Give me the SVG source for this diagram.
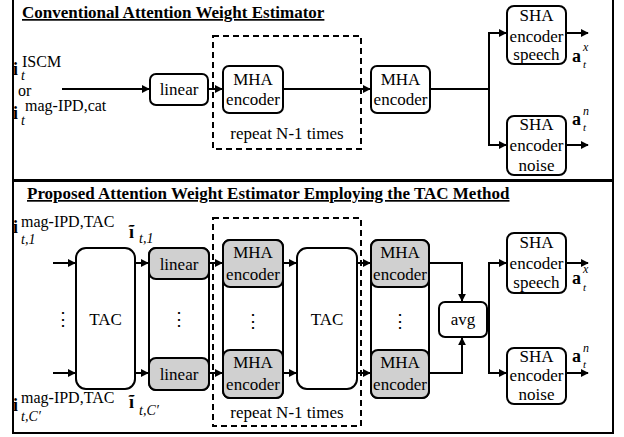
<svg xmlns="http://www.w3.org/2000/svg" width="624" height="437" viewBox="0 0 624 437" font-family="'Liberation Serif', 'DejaVu Serif', serif">
  <defs>
    <marker id="arr" viewBox="0 0 10 10" refX="9" refY="5" markerWidth="8" markerHeight="8" markerUnits="userSpaceOnUse" orient="auto">
      <path d="M0,0 L10,5 L0,10 z" fill="#000"/>
    </marker>
    <style>
      text { fill: #000; }
      .lbl { font-size: 17px; text-anchor: middle; }
      .ttl { font-size: 17px; font-weight: bold; text-decoration: underline; }
      .box { fill: #fff; stroke: #000; stroke-width: 2; }
      .gray { fill: #d0d0d0; stroke: #000; stroke-width: 2; }
      .panel { fill: #fff; stroke: #000; stroke-width: 2; }
      .dash { fill: none; stroke: #000; stroke-width: 2; stroke-dasharray: 6 4; }
      .wire { fill: none; stroke: #000; stroke-width: 2; }
      .arrow { fill: none; stroke: #000; stroke-width: 2; marker-end: url(#arr); }
      .bi { font-size: 18px; font-weight: bold; }
      .sup { font-size: 16px; }
      .sub { font-size: 14px; font-style: italic; }
      .osup { font-size: 12px; font-style: italic; }
      .osub { font-size: 11px; font-style: italic; }
      .dots { font-size: 18px; text-anchor: middle; }
    </style>
  </defs>

  <!-- panels -->
  <rect class="panel" x="13" y="-2" width="600" height="182"/>
  <rect class="panel" x="13" y="181" width="600" height="252"/>

  <text class="ttl" x="22" y="18">Conventional Attention Weight Estimator</text>
  <text class="ttl" x="27" y="199">Proposed Attention Weight Estimator Employing the TAC Method</text>

  <!-- ===== conventional estimator ===== -->
  <g id="in-top">
    <text class="bi" x="13" y="75">i</text>
    <text class="sup" x="22" y="67">ISCM</text>
    <text class="sub" x="21" y="80">t</text>
    <text x="18" y="96" style="font-size:16px">or</text>
    <text class="bi" x="13" y="119">i</text>
    <text class="sup" x="25" y="111">mag-IPD,cat</text>
    <text class="sub" x="21" y="125">t</text>
  </g>
  <g id="linear-top">
    <rect class="box" x="150" y="74" width="58" height="31" rx="6"/>
    <text class="lbl" x="179" y="95">linear</text>
  </g>
  <g id="repeat-top">
    <rect class="dash" x="213" y="36" width="148" height="113"/>
    <text class="lbl" x="287" y="139">repeat N-1 times</text>
  </g>
  <g id="mha-top-1">
    <rect class="box" x="223" y="66" width="60" height="47" rx="6"/>
    <text class="lbl" x="253" y="85">MHA</text>
    <text class="lbl" x="253" y="105">encoder</text>
  </g>
  <g id="mha-top-2">
    <rect class="box" x="371" y="66" width="59" height="47" rx="6"/>
    <text class="lbl" x="400.5" y="85">MHA</text>
    <text class="lbl" x="400.5" y="105">encoder</text>
  </g>
  <g id="sha-speech-top">
    <rect class="box" x="507" y="6" width="59" height="58" rx="7"/>
    <text class="lbl" x="536.5" y="21">SHA</text>
    <text class="lbl" x="536.5" y="42">encoder</text>
    <text class="lbl" x="536.5" y="60">speech</text>
  </g>
  <g id="sha-noise-top">
    <rect class="box" x="507" y="116" width="59" height="59" rx="7"/>
    <text class="lbl" x="536.5" y="130">SHA</text>
    <text class="lbl" x="536.5" y="151">encoder</text>
    <text class="lbl" x="536.5" y="171">noise</text>
  </g>
  <g id="out-top">
    <text class="bi" x="572" y="62">a</text>
    <text class="osup" x="583" y="51">x</text>
    <text class="osub" x="583" y="68">t</text>
    <text class="bi" x="572" y="125">a</text>
    <text class="osup" x="583" y="115">n</text>
    <text class="osub" x="583" y="131">t</text>
  </g>

  <!-- ===== TAC-based estimator ===== -->
  <g id="in-bottom">
    <text class="bi" x="13" y="233">i</text>
    <text class="sup" x="21" y="227">mag-IPD,TAC</text>
    <text class="sub" x="21" y="244">t,1</text>
    <text class="bi" x="13" y="411">i</text>
    <text class="sup" x="21" y="403">mag-IPD,TAC</text>
    <text class="sub" x="21" y="421">t,C′</text>
    <text class="dots" x="63" y="325">⋮</text>
  </g>
  <g id="feat-bottom">
    <text class="bi" x="129" y="238">ĩ</text>
    <text class="sub" x="139" y="243">t,1</text>
    <text class="bi" x="129" y="408">ĩ</text>
    <text class="sub" x="139" y="415">t,C′</text>
  </g>
  <g id="tac-1">
    <rect class="box" x="76" y="248" width="59" height="141" rx="10"/>
    <text class="lbl" x="105.5" y="325">TAC</text>
  </g>
  <g id="linear-col">
    <rect class="box" x="149" y="248" width="60" height="142" rx="7"/>
    <rect class="gray" x="149" y="248" width="60" height="31" rx="7"/>
    <rect class="gray" x="149" y="358" width="60" height="32" rx="7"/>
    <text class="lbl" x="179" y="270">linear</text>
    <text class="lbl" x="179" y="380">linear</text>
    <text class="dots" x="179" y="325">⋮</text>
  </g>
  <g id="repeat-bottom">
    <rect class="dash" x="213" y="218" width="148" height="208"/>
    <text class="lbl" x="287" y="418">repeat N-1 times</text>
  </g>
  <g id="mha-col-1">
    <rect class="box" x="223" y="240" width="60" height="158" rx="7"/>
    <rect class="gray" x="223" y="240" width="60" height="47" rx="7"/>
    <rect class="gray" x="223" y="350" width="60" height="48" rx="7"/>
    <text class="lbl" x="253" y="258">MHA</text>
    <text class="lbl" x="253" y="280">encoder</text>
    <text class="lbl" x="253" y="368">MHA</text>
    <text class="lbl" x="253" y="390">encoder</text>
    <text class="dots" x="253" y="327">⋮</text>
  </g>
  <g id="tac-2">
    <rect class="box" x="297" y="248" width="60" height="141" rx="10"/>
    <text class="lbl" x="327" y="325">TAC</text>
  </g>
  <g id="mha-col-2">
    <rect class="box" x="371" y="240" width="58" height="158" rx="7"/>
    <rect class="gray" x="371" y="240" width="58" height="47" rx="7"/>
    <rect class="gray" x="371" y="350" width="58" height="48" rx="7"/>
    <text class="lbl" x="400" y="258">MHA</text>
    <text class="lbl" x="400" y="280">encoder</text>
    <text class="lbl" x="400" y="368">MHA</text>
    <text class="lbl" x="400" y="390">encoder</text>
    <text class="dots" x="400" y="327">⋮</text>
  </g>
  <g id="avg">
    <rect class="box" x="439" y="302" width="48" height="35" rx="6"/>
    <text class="lbl" x="463" y="325">avg</text>
  </g>
  <g id="sha-speech-bottom">
    <rect class="box" x="507" y="233" width="59" height="60" rx="7"/>
    <text class="lbl" x="536.5" y="248">SHA</text>
    <text class="lbl" x="536.5" y="269">encoder</text>
    <text class="lbl" x="536.5" y="288">speech</text>
  </g>
  <g id="sha-noise-bottom">
    <rect class="box" x="507" y="348" width="59" height="56" rx="7"/>
    <text class="lbl" x="536.5" y="362">SHA</text>
    <text class="lbl" x="536.5" y="381">encoder</text>
    <text class="lbl" x="536.5" y="400">noise</text>
  </g>
  <g id="out-bottom">
    <text class="bi" x="572" y="284">a</text>
    <text class="osup" x="583" y="273">x</text>
    <text class="osub" x="583" y="291">t</text>
    <text class="bi" x="572" y="362">a</text>
    <text class="osup" x="583" y="352">n</text>
    <text class="osub" x="583" y="368">t</text>
  </g>

  <!-- connectors -->
  <g id="connectors">
    <line class="arrow" x1="62" y1="89" x2="149" y2="89"/>
    <line class="arrow" x1="208" y1="89" x2="222" y2="89"/>
    <line class="arrow" x1="283" y1="89" x2="370" y2="89"/>
    <polyline class="wire" points="430,89 489,89"/>
    <polyline class="arrow" points="489,89 489,33 506,33"/>
    <polyline class="arrow" points="489,89 489,145 506,145"/>
    <line class="arrow" x1="566" y1="33" x2="588" y2="33"/>
    <line class="arrow" x1="566" y1="145" x2="588" y2="145"/>

    <line class="arrow" x1="53" y1="263" x2="75" y2="263"/>
    <line class="arrow" x1="53" y1="373" x2="75" y2="373"/>
    <line class="arrow" x1="135" y1="263" x2="148" y2="263"/>
    <line class="arrow" x1="135" y1="373" x2="148" y2="373"/>
    <line class="arrow" x1="209" y1="263" x2="222" y2="263"/>
    <line class="arrow" x1="209" y1="373" x2="222" y2="373"/>
    <line class="arrow" x1="283" y1="263" x2="296" y2="263"/>
    <line class="arrow" x1="283" y1="373" x2="296" y2="373"/>
    <line class="arrow" x1="357" y1="263" x2="370" y2="263"/>
    <line class="arrow" x1="357" y1="373" x2="370" y2="373"/>
    <polyline class="arrow" points="429,263 462,263 462,301"/>
    <polyline class="arrow" points="429,373 462,373 462,338"/>
    <polyline class="wire" points="487,318 489,318"/>
    <polyline class="arrow" points="489,318 489,263 506,263"/>
    <polyline class="arrow" points="489,318 489,373 506,373"/>
    <line class="arrow" x1="566" y1="263" x2="588" y2="263"/>
    <line class="arrow" x1="566" y1="373" x2="588" y2="373"/>
  </g>
</svg>
